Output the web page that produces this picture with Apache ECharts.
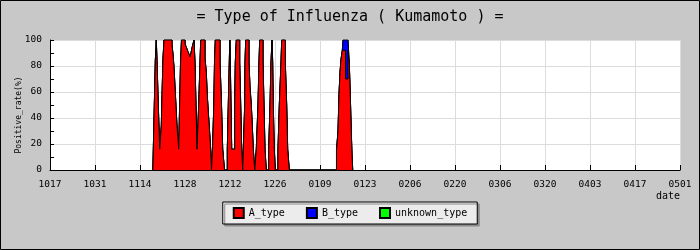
<!DOCTYPE html>
<html><head><meta charset="utf-8">
<script src="https://cdn.jsdelivr.net/npm/echarts@6/dist/echarts.min.js"></script>
<style>html,body{margin:0;padding:0;background:#c8c8c8}#c{width:700px;height:250px}</style>
</head><body><div id="c"></div>
<script>
// x positions: days after Oct 17
const tickLabels = ['1017','1031','1114','1128','1212','1226','0109','0123','0206','0220','0306','0320','0403','0417','0501'];
const days = [32.00,32.14,32.45,32.76,33.07,33.29,33.69,34.13,34.63,34.84,35.16,35.47,37.96,38.27,38.58,38.89,39.20,39.51,39.82,40.04,
40.60,40.91,42.00,42.31,42.62,42.93,43.24,43.56,43.87,44.18,44.49,44.80,45.11,45.42,45.73,46.26,46.67,46.89,48.22,48.63,
48.94,49.37,49.69,50.00,50.24,50.56,50.96,51.18,51.43,52.89,53.36,53.73,54.29,55.16,55.47,55.78,55.94,56.09,56.31,56.53,
57.46,57.65,57.96,59.02,59.33,59.64,59.95,60.14,60.57,60.67,60.89,61.91,62.22,62.63,62.94,63.25,63.69,64.18,64.71,65.02,
65.24,66.27,66.58,66.89,67.29,68.04,68.44,68.76,69.07,69.28,69.47,69.78,70.09,70.93,71.34,71.87,72.09,73.20,73.64,73.95,
74.45,89.13,89.60,89.91,90.22,90.53,90.94,91.16,91.93,92.71,93.11,93.42,93.73,93.96,94.18];
const aType = [0,16,50,84,100,84,50,16,34,57,86,100,96,89,79,64,49,34,24,16,
82,100,97,95,93,91,89,87,90,94,97,100,83,50,16,50,83,100,86,75,
57,40,28,16,0,16,50,83,100,83,50,16,0,16,50,83,100,83,50,16,
50,83,100,83,50,16,0,16,50,83,100,83,64,50,34,16,0,16,50,83,
100,83,50,16,0,16,50,83,100,83,50,16,0,16,50,83,100,83,50,16,
0,15,30,58,75,85,92,92,70,92,82,58,30,12,0];
const bType = [0,0,0,0,0,0,0,0,0,0,0,0,0,0,0,0,0,0,0,0,
0,0,0,0,0,0,0,0,0,0,0,0,0,0,0,0,0,0,0,0,
0,0,0,0,0,0,0,0,0,0,0,0,0,0,0,0,0,0,0,0,
0,0,0,0,0,0,0,0,0,0,0,0,0,0,0,0,0,0,0,0,
0,0,0,0,0,0,0,0,0,0,0,0,0,0,0,0,0,0,0,0,
0,0,0,0,0,0,0,8,30,8,0,0,0,0,0];
const unknownType = [0,0,0,0,0,0,0,0,0,0,0,0,0,0,0,0,0,0,0,0,
0,0,0,0,0,0,0,0,0,0,0,0,0,0,0,0,0,0,0,0,
0,0,0,0,0,0,0,0,0,0,0,0,0,0,0,0,0,0,0,0,
0,0,0,0,0,0,0,0,0,0,0,0,0,0,0,0,0,0,0,0,
0,0,0,0,0,0,0,0,0,0,0,0,0,0,0,0,0,0,0,0,
0,0,0,0,0,0,0,0,0,0,0,0,0,0,0];
const seriesNames = ['A_type','B_type','unknown_type'];
const seriesColors = ['#ff0000','#0000ff','#00ff00'];

const MONO = '"DejaVu Sans Mono", monospace';
const valueSets = [aType, bType, unknownType];
// cumulative tops (stacked): layer k top = sum of series 0..k
const cumulative = valueSets.map((_, k) => days.map((d, i) => {
  let s = 0; for (let j = 0; j <= k; j++) s += valueSets[j][i]; return [d, s];
}));

const chart = echarts.init(document.getElementById('c'), null, {renderer:'canvas'});
chart.setOption({
  animation:false,
  backgroundColor:'#c8c8c8',
  title:{text:'= Type of Influenza ( Kumamoto ) =', left:'center', top:5,
    textStyle:{fontFamily:MONO, fontSize:15, fontWeight:'normal', color:'#000'}},
  legend:{data:seriesNames, left:'center', top:202, padding:[5,10,5,10], itemGap:21,
    itemWidth:10, itemHeight:10, icon:'rect',
    backgroundColor:'#ececec', borderColor:'#000', borderWidth:1,
    shadowColor:'#8a8a8a', shadowOffsetX:2, shadowOffsetY:2, shadowBlur:0,
    textStyle:{fontFamily:MONO, fontSize:10, color:'#000'}},
  graphic:[{type:'rect', silent:true, z:100, shape:{x:0.5,y:0.5,width:699,height:249},
    style:{fill:'none', stroke:'#000', lineWidth:1}}],
  grid:{left:50, right:20, top:40, bottom:80, backgroundColor:'#fff', show:true, borderWidth:0},
  xAxis:{type:'value', min:0, max:196, interval:14,
    name:'date', nameLocation:'end', nameGap:0, nameMoveOverlap:false,
    nameTextStyle:{fontFamily:MONO, fontSize:10, color:'#000', align:'right', verticalAlign:'top', padding:[21,0,0,0]},
    axisLine:{lineStyle:{color:'#000', width:1}},
    axisTick:{inside:true, length:5, lineStyle:{color:'#000'}},
    axisLabel:{fontFamily:MONO, fontSize:9.5, color:'#000', margin:10,
      formatter:(v)=>tickLabels[Math.round(v/14)] || ''},
    splitLine:{show:true, lineStyle:{color:'#dcdcdc', width:1}}},
  yAxis:{type:'value', min:0, max:100, interval:20,
    name:'Positive_rate(%)', nameLocation:'middle', nameGap:27, nameMoveOverlap:false,
    nameTextStyle:{fontFamily:MONO, fontSize:8, color:'#000', padding:[0,20,0,0]},
    axisLine:{show:true, lineStyle:{color:'#000', width:1}},
    axisTick:{show:true, inside:true, length:4, lineStyle:{color:'#000'}},
    minorTick:{show:true, splitNumber:2, length:4, lineStyle:{color:'#000'}},
    axisLabel:{fontFamily:MONO, fontSize:9.5, color:'#000', margin:8},
    splitLine:{show:true, lineStyle:{color:'#dcdcdc', width:1}}},
  series: seriesNames.map((n,i)=>({
    name:n, type:'line', step:'end', symbol:'none',
    z: 10 - i,
    data:cumulative[i],
    itemStyle:{color:seriesColors[i], borderColor:'#000', borderWidth:1},
    lineStyle:{color:'#000', width:1},
    areaStyle:{color:seriesColors[i], opacity:1}
  }))
});
</script></body></html>
